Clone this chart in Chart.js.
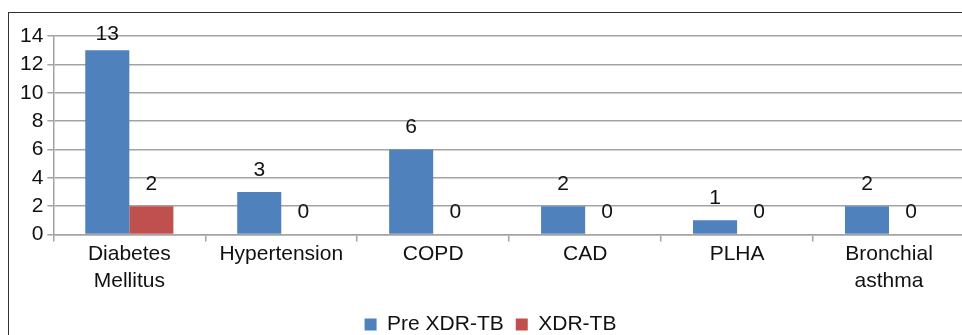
<!DOCTYPE html>
<html>
<head>
<meta charset="utf-8">
<script src="https://cdn.jsdelivr.net/npm/chart.js@4"></script>
<style>
  html, body { margin: 0; padding: 0; background: #fff; overflow: hidden; width: 962px; height: 335px; }
  #frame { position: absolute; left: 8px; top: 12px; width: 1000px; height: 400px; border-left: 1.5px solid #333; border-top: 1.5px solid #333; }
  #wrap { position: absolute; left: 0; top: 0; width: 975px; height: 345px; }
</style>
</head>
<body>
<div id="frame"></div>
<div id="wrap"><canvas id="chart" width="975" height="345"></canvas></div>
<script>
// ---- data ----
const categories = [['Diabetes', 'Mellitus'], 'Hypertension', 'COPD', 'CAD', 'PLHA', ['Bronchial', 'asthma']];
const preXdr = [13, 3, 6, 2, 1, 2];
const xdr    = [2, 0, 0, 0, 0, 0];
const yTicks = [0, 2, 4, 6, 8, 10, 12, 14];

const FONT = "'Liberation Sans', Arial, sans-serif";
const TEXT = '#111';
const GRID = '#a3a3a3';

// values drawn above each bar
const valueLabels = {
  id: 'valueLabels',
  afterDatasetsDraw(chart) {
    const ctx = chart.ctx;
    ctx.save();
    ctx.font = '21px ' + FONT;
    ctx.fillStyle = TEXT;
    ctx.textAlign = 'center';
    ctx.textBaseline = 'middle';
    chart.data.datasets.forEach((ds, di) => {
      chart.getDatasetMeta(di).data.forEach((bar, i) => {
        const y = Math.max(bar.y - 22, chart.chartArea.top - 2);
        ctx.fillText(String(ds.data[i]), bar.x, y);
      });
    });
    ctx.restore();
  }
};

new Chart(document.getElementById('chart'), {
  type: 'bar',
  data: {
    labels: categories,
    datasets: [
      { label: 'Pre XDR-TB', data: preXdr, backgroundColor: '#4f81bd', categoryPercentage: 0.58, barPercentage: 1 },
      { label: 'XDR-TB', data: xdr, backgroundColor: '#c0504d', categoryPercentage: 0.58, barPercentage: 1 }
    ]
  },
  options: {
    responsive: false,
    animation: false,
    layout: { padding: { left: 16, right: 10, top: 36, bottom: 0 } },
    plugins: {
      tooltip: { enabled: false },
      legend: {
        position: 'bottom',
        labels: { boxWidth: 12, boxHeight: 12, padding: 12, color: TEXT, font: { family: FONT, size: 21 } }
      }
    },
    scales: {
      x: {
        afterFit(axis) { axis.height += 8; },
        grid: { offset: true, drawOnChartArea: false, drawTicks: true, tickLength: 7, color: GRID, lineWidth: 1.5 },
        border: { color: GRID, width: 1.5 },
        ticks: { color: TEXT, font: { family: FONT, size: 21, lineHeight: 1.25 }, padding: 0, maxRotation: 0, autoSkip: false }
      },
      y: {
        min: 0, max: 14,
        afterBuildTicks(axis) { axis.ticks = yTicks.map(v => ({ value: v })); },
        grid: { color: GRID, lineWidth: 1.5, tickLength: 6 },
        border: { color: GRID, width: 1.5 },
        ticks: { color: TEXT, font: { family: FONT, size: 21 }, padding: 4 }
      }
    }
  },
  plugins: [valueLabels]
});
</script>
</body>
</html>
